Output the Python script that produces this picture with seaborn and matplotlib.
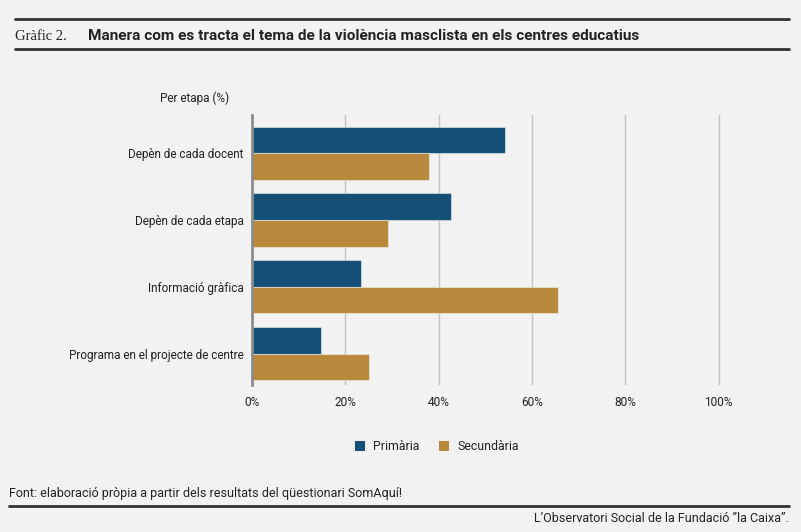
import matplotlib
matplotlib.use("Agg")
import matplotlib.pyplot as plt
from matplotlib.lines import Line2D
from matplotlib.patches import Patch
import seaborn as sns
import pandas as pd

categories = ["Depèn de cada docent", "Depèn de cada etapa", "Informació gràfica",
              "Programa en el projecte de centre"]
primaria = [54.3, 42.6, 23.4, 14.8]
secundaria = [38.0, 29.1, 65.5, 25.1]
series = ["Primària", "Secundària"]
xticks = [0, 20, 40, 60, 80, 100]
xticklabels = ["0%", "20%", "40%", "60%", "80%", "100%"]

BG = "#f2f2f2"
BLUE = "#144f77"
GOLD = "#b8893d"
TXT = "#222222"

df = pd.DataFrame({
    "cat": categories * 2,
    "serie": [series[0]] * len(categories) + [series[1]] * len(categories),
    "val": primaria + secundaria,
})

sns.set_theme(style="white")
plt.rcParams["font.family"] = ["Roboto", "DejaVu Sans"]

fig = plt.figure(figsize=(8.01, 5.32), dpi=100, facecolor=BG)
W, H = 801, 532
XMAX = 101
ax = fig.add_axes([252 / W, 1 - 385 / H, (718.7 - 252) * XMAX / 100 / W, 270 / H])
ax.set_facecolor(BG)

sns.barplot(data=df, y="cat", x="val", hue="serie", orient="h",
            palette=[BLUE, GOLD], width=0.8, ax=ax, legend=False,
            edgecolor=(1, 1, 1, 0.45), linewidth=0.8, saturation=1)

ax.set_xlim(0, XMAX)
ax.set_ylim(3.472, -0.576)
ax.set_xticks(xticks)
ax.set_xticklabels(xticklabels)
ax.set_xlabel("")
ax.set_ylabel("")
ax.grid(axis="x", color="#c3c3c3", linewidth=1)
ax.set_axisbelow(True)
for s in ["top", "right", "bottom"]:
    ax.spines[s].set_visible(False)
ax.spines["left"].set_color("#8c8c8c")
ax.spines["left"].set_linewidth(2)
ax.spines["left"].set_zorder(5)
ax.tick_params(axis="x", length=0, pad=8, labelsize=8.6, labelcolor=TXT)
ax.tick_params(axis="y", length=0, pad=6, labelsize=8.45, labelcolor=TXT)

def fy(y):
    return 1 - y / H

def fx(x):
    return x / W

# header / footer lines
fig.add_artist(Line2D([fx(15), fx(789)], [fy(19), fy(19)], color="#333333", lw=2))
fig.add_artist(Line2D([fx(15), fx(789)], [fy(49), fy(49)], color="#333333", lw=2))
fig.add_artist(Line2D([fx(9), fx(789)], [fy(506), fy(506)], color="#333333", lw=2))

fig.text(fx(15), fy(36), "Gràfic 2.", family=["Liberation Serif", "DejaVu Serif"],
         fontsize=10.5, color=TXT, va="center", ha="left")
fig.text(fx(88), fy(36), "Manera com es tracta el tema de la violència masclista en els centres educatius",
         family=["Roboto", "DejaVu Sans"], fontweight="bold",
         fontsize=11.1, color=TXT, va="center", ha="left")

fig.text(fx(160), fy(98), "Per etapa (%)", fontsize=8.5, color=TXT, va="center", ha="left")

handles = [Patch(facecolor=BLUE, edgecolor="none"), Patch(facecolor=GOLD, edgecolor="none")]
fig.legend(handles, series, loc="center", bbox_to_anchor=(fx(437), fy(447)), ncol=2,
           frameon=False, fontsize=8.9, handlelength=0.75, handleheight=0.9,
           handletextpad=0.7, columnspacing=1.6, labelcolor=TXT)

fig.text(fx(9), fy(493), "Font: elaboració pròpia a partir dels resultats del qüestionari SomAquí!",
         fontsize=9.0, color=TXT, va="center", ha="left")
fig.text(fx(789), fy(519), "L’Observatori Social de la Fundació ”la Caixa”.",
         fontsize=9.0, color=TXT, va="center", ha="right")

fig.savefig("out.png", dpi=100, facecolor=BG)
